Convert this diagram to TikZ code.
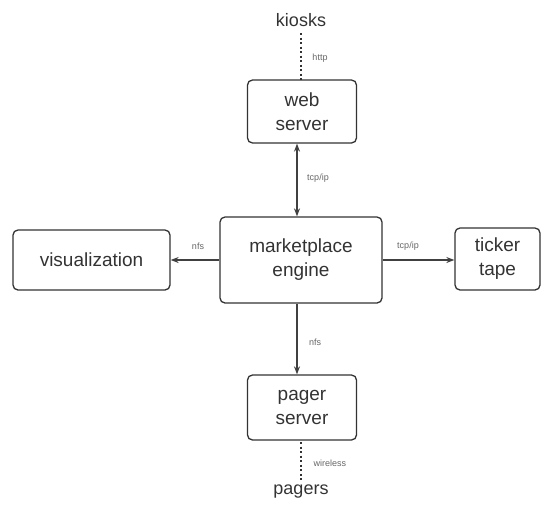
\documentclass[tikz,border=0pt]{standalone}
\usepackage{fontspec}
\setmainfont{Liberation Sans}
\usetikzlibrary{arrows.meta}
\begin{document}
\begin{tikzpicture}[x=1pt,y=-1pt,
  box/.style={draw=black!80,line width=1.3pt,rounded corners=5pt,align=center,inner sep=0pt,font=\fontsize{19}{24}\selectfont,text=black!80},
  lbl/.style={font=\fontsize{9}{11}\selectfont,text=black!60,inner sep=1pt},
  conn/.style={draw=black!75,line width=1.6pt},
  tip/.style={-{Stealth[length=8pt,width=6pt]}},
  dots/.style={draw=black!80,line width=1.6pt,dash pattern=on 2pt off 2.5pt}]
\useasboundingbox (0,0) rectangle (560,504);
\node[box,minimum width=109pt,minimum height=63pt] (web) at (302,111.5) {web\\server};
\node[box,minimum width=162pt,minimum height=86pt] (eng) at (301,260) {marketplace\\engine};
\node[box,minimum width=157pt,minimum height=60pt] (vis) at (91.5,260) {visualization};
\node[box,minimum width=85pt,minimum height=62pt] (tick) at (497.5,259) {ticker\\tape};
\node[box,minimum width=109pt,minimum height=65pt] (pager) at (302,407.5) {pager\\server};
\node[font=\fontsize{18}{22}\selectfont,text=black!80] (kiosks) at (301,20) {kiosks};
\node[font=\fontsize{18}{22}\selectfont,text=black!80] (pagers) at (301,492) {pagers};
\draw[dots] (301,33) coordinate (k1) -- (301,80);
\node[lbl] (lhttp) at (320,58) {http};
\draw[conn,{Stealth[length=8pt,width=6pt]}-{Stealth[length=8pt,width=6pt]}] (web.south -| 297,0) -- (eng.north -| 297,0);
\node[lbl] (ltcp1) at (318,178) {tcp/ip};
\draw[conn,tip] (eng.west) -- (vis.east);
\node[lbl] (lnfs1) at (198,246) {nfs};
\draw[conn,tip] (eng.east) -- (eng.east -| tick.west);
\node[lbl] (ltcp2) at (408,246) {tcp/ip};
\draw[conn,tip] (eng.south -| 297,0) -- (pager.north -| 297,0);
\node[lbl] (lnfs2) at (315,342) {nfs};
\draw[dots] (301,442) -- (pagers.north -| 301,0);
\node[lbl] (lwire) at (330,463) {wireless};
\end{tikzpicture}
\end{document}
